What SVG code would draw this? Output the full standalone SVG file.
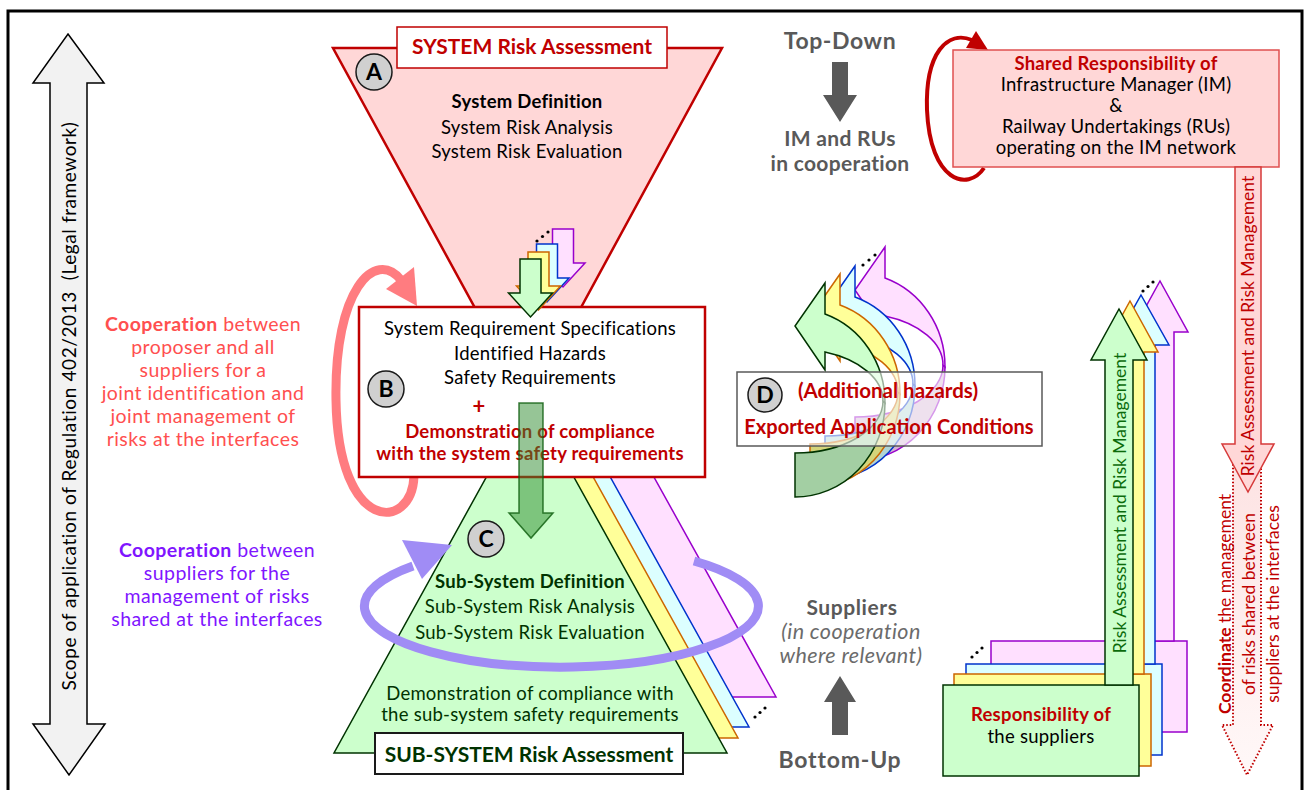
<svg xmlns="http://www.w3.org/2000/svg" width="1308" height="790" viewBox="0 0 1308 790">
<defs>
<style>
text{font-family:Lato,"Liberation Sans",sans-serif;}
.t{font-size:18.5px;letter-spacing:0.25px;text-anchor:middle;}
.r{font-size:17.5px;text-anchor:middle;}
.c{font-size:19.5px;letter-spacing:0.45px;text-anchor:middle;}
.b{font-weight:bold;}
.red{fill:#c00000;}
.gray{fill:#595959;}
.dg{fill:#003300;}
.circ{fill:#d0d0d0;stroke:#1a1a1a;stroke-width:1.5;}
.letter{font-size:23px;font-weight:bold;text-anchor:middle;fill:#000;}
.gG{fill:#ccffcc;stroke:#003300;stroke-width:1.5;}
.gY{fill:#ffff99;stroke:#cc6600;stroke-width:1.5;}
.gC{fill:#dcffff;stroke:#0033cc;stroke-width:1.5;}
.gP{fill:#ffe0ff;stroke:#9900cc;stroke-width:1.5;}
.dG{fill:#a3cfa3;stroke:#003300;stroke-width:1.5;}
.dY{fill:#d4d47a;stroke:#cc6600;stroke-width:1.5;}
.dC{fill:#b0d4d4;stroke:#0033cc;stroke-width:1.5;}
.dP{fill:#d4b3d4;stroke:#9900cc;stroke-width:1.5;}
</style>
<linearGradient id="pinkfade" x1="0" y1="0" x2="0" y2="1">
<stop offset="0" stop-color="#fde3e3"/>
<stop offset="1" stop-color="#fff8f8"/>
</linearGradient>
<path id="dn" d="M -10.5 0 H 10.5 V 34 H 22 L 0 58 L -22 34 H -10.5 Z"/>
<path id="ctri" d="M 530 398 L 727 753 L 334 753 Z"/>
<path id="cl" d="M 825 314 A 90 94 0 0 1 885 403 L 883 401 A 88 52 0 0 0 825 352 L 825 370 L 795 326 L 825 283 Z"/>
<path id="cd" d="M 885 403 A 90 94 0 0 1 795 497 L 795 453 A 88 52 0 0 0 883 401 Z"/>
</defs>

<rect x="8" y="11" width="1294" height="820" fill="#fff" stroke="#000" stroke-width="3"/>

<g id="scope">
<polygon points="68,34 104,83 87,83 87,724 105,724 69,775 33,724 50,724 50,83 33,83" fill="#f2f2f2" stroke="#000" stroke-width="1.5"/>
<text transform="translate(76,406) rotate(-90)" style="font-size:19px;letter-spacing:0.6px;text-anchor:middle;fill:#000">Scope of application of Regulation 402/2013&#160; (Legal framework)</text>
</g>

<g id="systemA">
<polygon points="333,48 722,48 528,405" fill="#ffd7d7" stroke="#c00000" stroke-width="2.5"/>
<rect x="397" y="27" width="270" height="41" fill="#fff" stroke="#c00000" stroke-width="1.5"/>
<text x="532" y="54" class="b red" style="font-size:21px;text-anchor:middle">SYSTEM Risk Assessment</text>
<circle cx="374" cy="72" r="18" class="circ"/>
<text x="374" y="80" class="letter">A</text>
<text x="527" y="108" class="t b">System Definition</text>
<text x="527" y="134" class="t">System Risk Analysis</text>
<text x="527" y="158" class="t">System Risk Evaluation</text>
</g>

<g id="connectors">
<path d="M 414 476 C 412 532 338 535 336 400 C 334 290 375 248 401 280" fill="none" stroke="#ff7c80" stroke-width="9"/>
<polygon points="386,289 414,267 417,306" fill="#ff7c80"/>
</g>

<g id="subsystemC">
<use href="#ctri" transform="translate(49,-56)" class="gP"/>
<use href="#ctri" transform="translate(22,-26)" class="gC"/>
<use href="#ctri" transform="translate(11,-15)" class="gY"/>
<use href="#ctri" class="gG"/>
<circle cx="755" cy="717" r="1.6" fill="#000"/>
<circle cx="760" cy="712.5" r="1.6" fill="#000"/>
<circle cx="765" cy="708" r="1.6" fill="#000"/>
</g>

<g id="boxB">
<rect x="359" y="307" width="346" height="170" fill="#fff" stroke="#c00000" stroke-width="2.5"/>
<text x="530" y="335" class="t">System Requirement Specifications</text>
<text x="530" y="360" class="t">Identified Hazards</text>
<text x="530" y="384" class="t">Safety Requirements</text>
<text x="479" y="414" class="b red" style="font-size:22px;text-anchor:middle">+</text>
<text x="530" y="438" class="t b red">Demonstration of compliance</text>
<text x="530" y="460" class="t b red">with the system safety requirements</text>
<circle cx="386" cy="389" r="18" class="circ"/>
<text x="386" y="397" class="letter">B</text>
</g>

<g id="smallArrows">
<use href="#dn" transform="translate(563,229)" class="gP"/>
<use href="#dn" transform="translate(547,244)" class="gC"/>
<use href="#dn" transform="translate(538.5,252)" class="gY"/>
<use href="#dn" transform="translate(530.5,259)" class="gG"/>
<circle cx="537" cy="241" r="1.6" fill="#000"/>
<circle cx="542.5" cy="236.5" r="1.6" fill="#000"/>
<circle cx="548" cy="232" r="1.6" fill="#000"/>
</g>

<g id="arrowBC">
<polygon points="519,403 543,403 543,513 553,513 531,538 509,513 519,513" fill="#2e8b2e" fill-opacity="0.5" stroke="#0a5a0a" stroke-opacity="0.8" stroke-width="1.5"/>
</g>

<g id="textsC">
<circle cx="486" cy="539" r="18" class="circ"/>
<text x="486" y="547" class="letter">C</text>
<text x="530" y="588" class="t b dg">Sub-System Definition</text>
<text x="530" y="613" class="t dg">Sub-System Risk Analysis</text>
<text x="530" y="639" class="t dg">Sub-System Risk Evaluation</text>
<text x="530" y="700" class="t dg">Demonstration of compliance with</text>
<text x="530" y="721" class="t dg">the sub-system safety requirements</text>
<rect x="375" y="733" width="308" height="41" fill="#fff" stroke="#1a1a1a" stroke-width="2"/>
<text x="529" y="762" class="b dg" style="font-size:21px;text-anchor:middle">SUB-SYSTEM Risk Assessment</text>
</g>

<g id="ring">
<path d="M 694 561 A 197 61 0 1 1 413 566" fill="none" stroke="#a08cf5" stroke-width="9"/>
<polygon points="402,540 422,579 452,545" fill="#a08cf5"/>
</g>

<g id="coopRed">
<text x="203" y="331" class="c" style="fill:#ff4f4f"><tspan class="b">Cooperation</tspan> between</text>
<text x="203" y="354" class="c" style="fill:#ff4f4f">proposer and all</text>
<text x="203" y="377" class="c" style="fill:#ff4f4f">suppliers for a</text>
<text x="203" y="400" class="c" style="fill:#ff4f4f">joint identification and</text>
<text x="203" y="423" class="c" style="fill:#ff4f4f">joint management of</text>
<text x="203" y="446" class="c" style="fill:#ff4f4f">risks at the interfaces</text>
</g>

<g id="coopPurple">
<text x="217" y="557" class="c" style="fill:#8015ff"><tspan class="b">Cooperation</tspan> between</text>
<text x="217" y="580" class="c" style="fill:#8015ff">suppliers for the</text>
<text x="217" y="603" class="c" style="fill:#8015ff">management of risks</text>
<text x="217" y="626" class="c" style="fill:#8015ff">shared at the interfaces</text>
</g>

<g id="topDown">
<text x="840" y="49" class="b gray" style="font-size:23px;letter-spacing:0.6px;text-anchor:middle">Top-Down</text>
<polygon points="832,62 848,62 848,95 857,95 840,122 823,95 832,95" fill="#595959"/>
<text x="840" y="146" class="b gray" style="font-size:21px;letter-spacing:0.3px;text-anchor:middle">IM and RUs</text>
<text x="840" y="171" class="b gray" style="font-size:21px;letter-spacing:0.3px;text-anchor:middle">in cooperation</text>
</g>

<g id="bottomUp">
<text x="852" y="615" class="b gray" style="font-size:21px;letter-spacing:0.6px;text-anchor:middle">Suppliers</text>
<text x="851" y="639" style="font-size:21.5px;letter-spacing:0.4px;font-style:italic;fill:#6b6b6b;text-anchor:middle">(in cooperation</text>
<text x="851" y="663" style="font-size:21.5px;letter-spacing:0.4px;font-style:italic;fill:#6b6b6b;text-anchor:middle">where relevant)</text>
<polygon points="840,676 856,702 848,702 848,735 832,735 832,702 824,702" fill="#595959"/>
<text x="840" y="768" class="b gray" style="font-size:23px;letter-spacing:0.8px;text-anchor:middle">Bottom-Up</text>
</g>

<g id="sharedResp">
<path d="M 984 168 C 968 192 930 182 927 110 C 925 52 948 30 972 40" fill="none" stroke="#c00000" stroke-width="4"/>
<polygon points="966,48 976,31 988,50" fill="#c00000"/>
<rect x="953" y="50" width="326" height="117" fill="#ffd7d7" stroke="#e05050" stroke-width="1.5"/>
<text x="1116" y="70" class="t b red">Shared Responsibility of</text>
<text x="1116" y="91" class="t">Infrastructure Manager (IM)</text>
<text x="1116" y="112" class="t">&amp;</text>
<text x="1116" y="133" class="t">Railway Undertakings (RUs)</text>
<text x="1116" y="154" class="t">operating on the IM network</text>
</g>

<g id="coordinate">
<polygon points="1233,465 1261,465 1261,725 1273,725 1247,775 1222,725 1233,725" fill="url(#pinkfade)" stroke="#c00000" stroke-width="2" stroke-dasharray="1.5 2"/>
<polygon points="1235,167 1261,167 1261,444 1274,444 1248,492 1222,444 1235,444" fill="#ffd7d7" stroke="#d63a3a" stroke-width="1.5"/>
<text transform="translate(1254,326) rotate(-90)" class="r red">Risk Assessment and Risk Management</text>
<text transform="translate(1231,604) rotate(-90)" class="r red"><tspan class="b">Coordinate</tspan> the management</text>
<text transform="translate(1255,604) rotate(-90)" class="r red">of risks shared between</text>
<text transform="translate(1279,604) rotate(-90)" class="r red">suppliers at the interfaces</text>
</g>

<g id="suppliers">
<rect x="991" y="641" width="196" height="91" class="gP"/>
<polygon points="1160,281 1188,332 1174,332 1174,641 1146,641 1146,332 1132,332" class="gP"/>
<rect x="966" y="664" width="196" height="91" class="gC"/>
<polygon points="1141,295 1169,345 1155,345 1155,664 1127,664 1127,345 1113,345" class="gC"/>
<rect x="954" y="674" width="197" height="92" class="gY"/>
<polygon points="1130,301 1158,352 1144,352 1144,674 1116,674 1116,352 1102,352" class="gY"/>
<rect x="943" y="685" width="196" height="91" class="gG"/>
<polygon points="1119,309 1147,360 1133,360 1133,685 1105,685 1105,360 1091,360" class="gG"/>
<text transform="translate(1126,503) rotate(-90)" class="r" style="fill:#0b6b0b">Risk Assessment and Risk Management</text>
<circle cx="1143" cy="291" r="1.6" fill="#000"/>
<circle cx="1148" cy="286.5" r="1.6" fill="#000"/>
<circle cx="1153" cy="282" r="1.6" fill="#000"/>
<circle cx="972" cy="657" r="1.6" fill="#000"/>
<circle cx="977" cy="652.5" r="1.6" fill="#000"/>
<circle cx="982" cy="648" r="1.6" fill="#000"/>
<text x="1041" y="721" class="t b red">Responsibility of</text>
<text x="1041" y="743" class="t">the suppliers</text>
</g>

<g id="exported">
<g transform="translate(60,-36)"><use href="#cd" class="dP"/><use href="#cl" class="gP"/></g>
<g transform="translate(30,-17)"><use href="#cd" class="dC"/><use href="#cl" class="gC"/></g>
<g transform="translate(15,-9)"><use href="#cd" class="dY"/><use href="#cl" class="gY"/></g>
<use href="#cd" class="dG"/><use href="#cl" class="gG"/>
<circle cx="863" cy="265" r="1.6" fill="#000"/>
<circle cx="869" cy="260" r="1.6" fill="#000"/>
<circle cx="875" cy="255" r="1.6" fill="#000"/>
<rect x="737" y="372" width="305" height="74" fill="#fff" fill-opacity="0.6" stroke="#595959" stroke-width="1.5"/>
<circle cx="765" cy="395" r="17" class="circ"/>
<text x="765" y="403" class="letter">D</text>
<text x="888" y="398" class="b red" style="font-size:20.5px;text-anchor:middle">(Additional hazards)</text>
<text x="889" y="434" class="b red" style="font-size:20px;text-anchor:middle">Exported Application Conditions</text>
</g>
</svg>
